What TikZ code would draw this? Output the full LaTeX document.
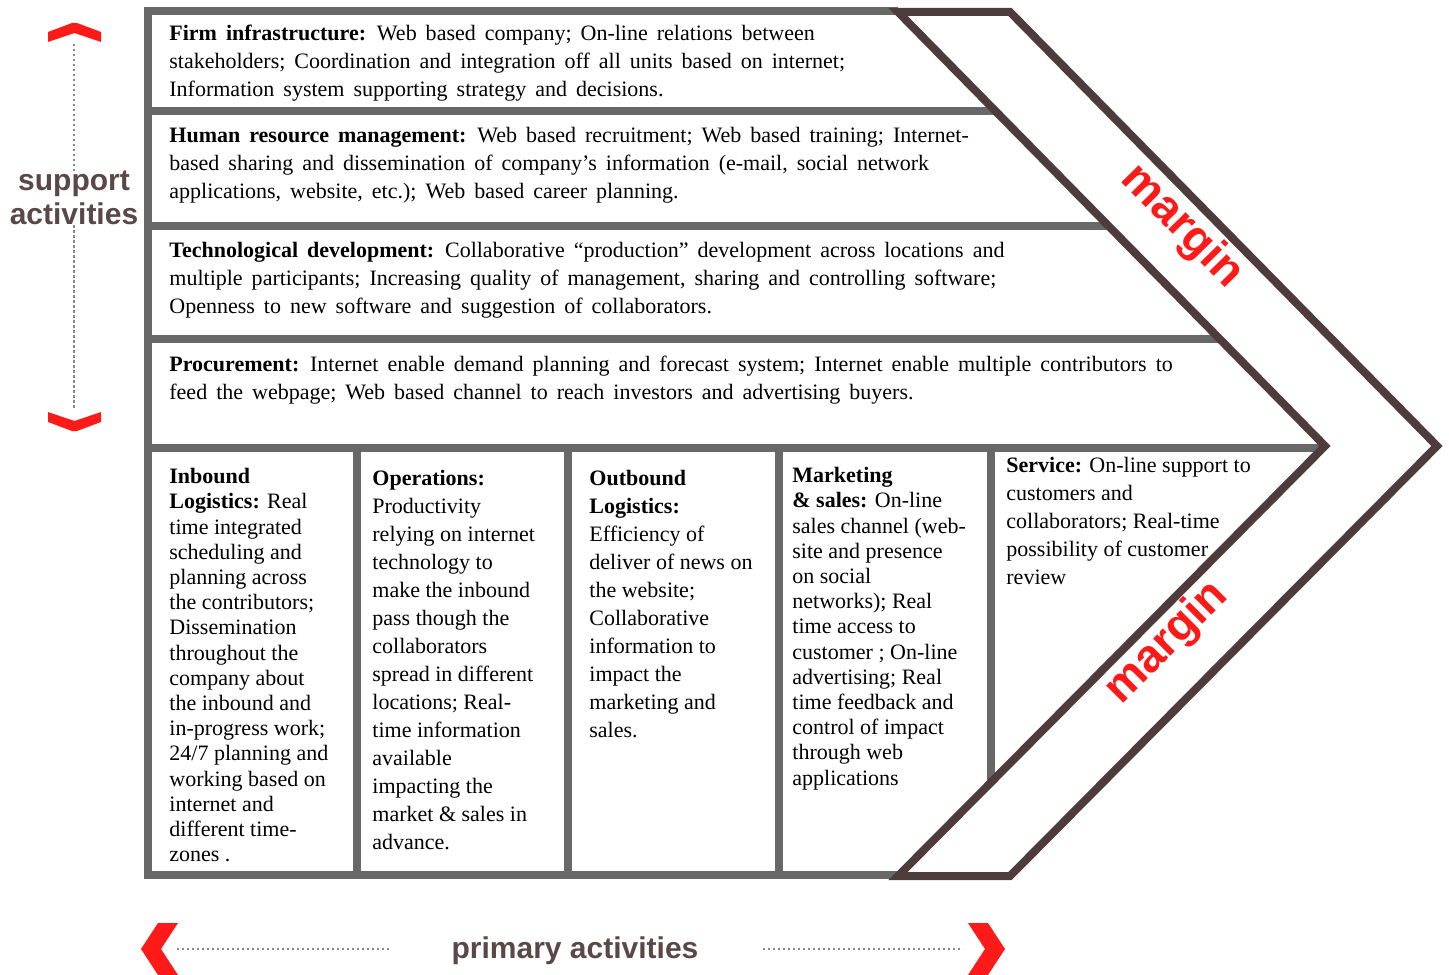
\documentclass[tikz,border=0pt]{standalone}
\usepackage{fontspec}
\setmainfont{Liberation Serif}
\newfontfamily\labfont{Liberation Sans}
\definecolor{framegray}{HTML}{686868}
\definecolor{chev}{HTML}{4E3C3C}
\definecolor{mred}{HTML}{FF1A1A}
\definecolor{labcol}{HTML}{5A4848}
\definecolor{dotgray}{HTML}{8A8A8A}
\newcommand\widespc{\spaceskip=4.5pt plus 1pt minus 0.5pt\relax}
\begin{document}
\begin{tikzpicture}[x=0.5pt,y=-0.5pt,
  frameline/.style={draw=framegray,line width=4pt},
  chevron/.style={draw=chev,fill=white,line width=4pt,line join=miter},
  rowtxt/.style={anchor=north west,inner sep=0pt,align=left,font=\fontsize{11}{14}\selectfont},
  suptxt/.style={anchor=north west,inner sep=0pt,align=left,font=\fontsize{11}{14}\selectfont\widespc},
  coltxt/.style={anchor=north west,inner sep=0pt,align=left,font=\fontsize{11}{12.6}\selectfont},
  marg/.style={text=mred,font=\labfont\bfseries\fontsize{23}{24}\selectfont,inner sep=0pt},
  lab/.style={text=labcol,font=\labfont\bfseries\fontsize{15}{17}\selectfont,inner sep=0pt,align=center},
  dotline/.style={draw=dotgray,line width=1.2pt,dash pattern=on 1.2pt off 1.3pt},
  caret/.style={fill=mred,draw=none}]
\useasboundingbox (0,0) rectangle (1449,974);
% frame
\draw[frameline] (898,11) -- (148,11) -- (148,875) -- (898,875);
\draw[frameline] (148,111) -- (1010,111);
\draw[frameline] (148,226) -- (1120,226);
\draw[frameline] (148,339) -- (1230,339);
\draw[frameline] (148,448) -- (1340,448);
\draw[frameline] (357,448) -- (357,875);
\draw[frameline] (568,448) -- (568,875);
\draw[frameline] (779,448) -- (779,875);
\draw[frameline] (991,448) -- (991,875);
% support rows
\node[suptxt] (fi) at (169,25) {\textbf{Firm infrastructure:} Web based company; On-line relations between\\
stakeholders; Coordination and integration off all units based on internet;\\
Information system supporting strategy and decisions.};
\node[suptxt] (hr) at (169,127) {\textbf{Human resource management:} Web based recruitment; Web based training; Internet-\\
based sharing and dissemination of company’s information (e-mail, social network\\
applications, website, etc.); Web based career planning.};
\node[suptxt] (td) at (169,242) {\textbf{Technological development:} Collaborative “production” development across locations and\\
multiple participants; Increasing quality of management, sharing and controlling software;\\
Openness to new software and suggestion of collaborators.};
\node[suptxt] (pr) at (169,356) {\textbf{Procurement:} Internet enable demand planning and forecast system; Internet enable multiple contributors to\\
feed the webpage; Web based channel to reach investors and advertising buyers.};
% primary columns
\node[coltxt] (il) at (169,468) {\textbf{Inbound}\\
\textbf{Logistics:} Real\\
time integrated\\
scheduling and\\
planning across\\
the contributors;\\
Dissemination\\
throughout the\\
company about\\
the inbound and\\
in-progress work;\\
24/7 planning and\\
working based on\\
internet and\\
different time-\\
zones .};
\node[rowtxt] (op) at (372,470) {\textbf{Operations:}\\
Productivity\\
relying on internet\\
technology to\\
make the inbound\\
pass though the\\
collaborators\\
spread in different\\
locations; Real-\\
time information\\
available\\
impacting the\\
market \& sales in\\
advance.};
\node[rowtxt] (ol) at (589,470) {\textbf{Outbound}\\
\textbf{Logistics:}\\
Efficiency of\\
deliver of news on\\
the website;\\
Collaborative\\
information to\\
impact the\\
marketing and\\
sales.};
\node[coltxt] (ms) at (792,467) {\textbf{Marketing}\\
\textbf{\& sales:} On-line\\
sales channel (web-\\
site and presence\\
on social\\
networks); Real\\
time access to\\
customer ; On-line\\
advertising; Real\\
time feedback and\\
control of impact\\
through web\\
applications};
\node[rowtxt] (sv) at (1006,457) {\textbf{Service:} On-line support to\\
customers and\\
collaborators; Real-time\\
possibility of customer\\
review};
% margin chevron
\draw[chevron] (898,12) -- (1010,12) -- (1437,446) -- (1010,876) -- (898,876) -- (1325,446) -- cycle;
\node[marg,rotate=-45.5] (m1) at (1182,227) {margin};
\node[marg,rotate=45] (m2) at (1167,643) {margin};
% support activities
\node[lab] (sup) at (74,198) {support\\activities};
\coordinate (supA) at (74,44);
\coordinate (supB) at (74,408);
\draw[dotline] (supA) -- (sup.north);
\draw[dotline] (sup.south) -- (supB);
\fill[caret] (48,32) -- (72,23) -- (77,23) -- (101,32) -- (101,42) -- (74.5,33) -- (48,42) -- cycle;
\fill[caret] (48,412) -- (74.5,421) -- (101,412) -- (101,422) -- (77,431) -- (72,431) -- (48,422) -- cycle;
% primary activities
\node[lab,anchor=base] (prim) at (575,958) {primary activities};
\coordinate (primL) at (177,949);
\coordinate (primR) at (963,949);
\draw[dotline] (primL) -- (390,949);
\draw[dotline] (763,949) -- (primR);
\fill[caret] (158,923) -- (178,923) -- (161,949) -- (178,975) -- (158,975) -- (141,949) -- cycle;
\fill[caret] (968,923) -- (988,923) -- (1005,949) -- (988,975) -- (968,975) -- (985,949) -- cycle;
\end{tikzpicture}
\end{document}
